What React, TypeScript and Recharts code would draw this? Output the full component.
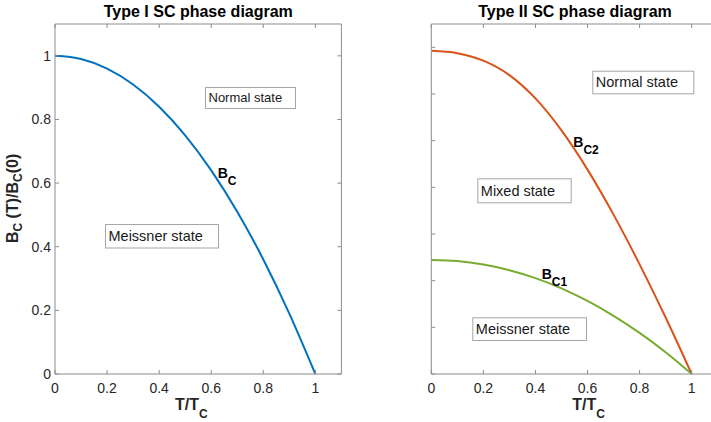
import { LineChart, Line, XAxis, YAxis, ReferenceLine } from 'recharts'

// values (T/Tc on x, field on y)
const tNorm = [0, 0.1, 0.2, 0.3, 0.4, 0.5, 0.6, 0.7, 0.8, 0.9, 1]
const bcType1 = [1, 0.99, 0.96, 0.91, 0.84, 0.75, 0.64, 0.51, 0.36, 0.19, 0]
const bc2Type2 = [1.385, 1.375, 1.343, 1.281, 1.181, 1.044, 0.876, 0.683, 0.47, 0.242, 0]
const bc1Type2 = [0.489, 0.484, 0.469, 0.445, 0.411, 0.367, 0.313, 0.249, 0.176, 0.093, 0]

const xTicks = [0, 0.2, 0.4, 0.6, 0.8, 1]
const yTicksType1 = [0, 0.2, 0.4, 0.6, 0.8, 1]
const yTicksType2 = [0, 0.2, 0.4, 0.6, 0.8, 1, 1.2, 1.4]

const type1Data = tNorm.map((t, i) => ({ t, bc: bcType1[i] }))
const type2Data = tNorm.map((t, i) => ({ t, bc2: bc2Type2[i], bc1: bc1Type2[i] }))

const FONT = '"Liberation Sans", Arial, Helvetica, sans-serif'
const AXIS = '#8c8c8c'
const TEXT = '#262626'

const CHART_W = 360
const CHART_H = 422
const PLOT_TOP = 24
const PLOT_BOTTOM = 374
const TICK_LEN = 4

interface PanelProps {
  left: number
  plotLeft: number
  plotRight: number
  data: any[]
  yMax: number
  yTicks: number[]
  yLabels: boolean
  lines: { key: string; color: string }[]
}

function Panel({ left, plotLeft, plotRight, data, yMax, yTicks, yLabels, lines }: PanelProps) {
  const xTick = (props: any) => {
    const { x, payload } = props
    return (
      <g>
        <line x1={x} x2={x} y1={PLOT_BOTTOM} y2={PLOT_BOTTOM - TICK_LEN} stroke={AXIS} />
        <line x1={x} x2={x} y1={PLOT_TOP} y2={PLOT_TOP + TICK_LEN} stroke={AXIS} />
        <text x={x} y={PLOT_BOTTOM + 19} textAnchor="middle" fontSize={14} fontFamily={FONT} fill={TEXT}>
          {payload.value}
        </text>
      </g>
    )
  }

  const yTick = (props: any) => {
    const { y, payload } = props
    return (
      <g>
        <line x1={plotLeft} x2={plotLeft + TICK_LEN} y1={y} y2={y} stroke={AXIS} />
        <line x1={plotRight} x2={plotRight - TICK_LEN} y1={y} y2={y} stroke={AXIS} />
        {yLabels && (
          <text x={plotLeft - 4} y={y + 5} textAnchor="end" fontSize={14} fontFamily={FONT} fill={TEXT}>
            {payload.value}
          </text>
        )}
      </g>
    )
  }

  return (
    <div style={{ position: 'absolute', left, top: 0 }}>
      <LineChart
        width={CHART_W}
        height={CHART_H}
        data={data}
        margin={{ top: PLOT_TOP, right: CHART_W - plotRight, bottom: 0, left: 0 }}
      >
        <XAxis
          dataKey="t"
          type="number"
          domain={[0, 1.1]}
          ticks={xTicks}
          interval={0}
          height={CHART_H - PLOT_BOTTOM}
          tickLine={false}
          axisLine={{ stroke: AXIS }}
          tick={xTick}
        />
        <YAxis
          type="number"
          domain={[0, yMax]}
          ticks={yTicks}
          interval={0}
          width={plotLeft}
          tickLine={false}
          axisLine={{ stroke: AXIS }}
          tick={yTick}
        />
        <ReferenceLine y={yMax} stroke={AXIS} />
        <ReferenceLine x={1.1} stroke={AXIS} />
        {lines.map((l) => (
          <Line
            key={l.key}
            type="monotone"
            dataKey={l.key}
            stroke={l.color}
            strokeWidth={2}
            dot={false}
            isAnimationActive={false}
          />
        ))}
      </LineChart>
    </div>
  )
}

function StateBox({ x, y, w, h, label, size = 14.5 }: { x: number; y: number; w: number; h: number; label: string; size?: number }) {
  return (
    <g>
      <rect x={x + 0.5} y={y + 0.5} width={w} height={h} fill="#fff" stroke="#a6a6a6" />
      <text x={x + 3.5} y={y + h / 2 + size * 0.36} fontSize={size} fontFamily={FONT} fill="#1a1a1a">
        {label}
      </text>
    </g>
  )
}

function SubLabel({ x, y, main, sub }: { x: number; y: number; main: string; sub: string }) {
  return (
    <text x={x} y={y} fontFamily={FONT} fontWeight="bold" fill="#000">
      <tspan fontSize={14}>{main}</tspan>
      <tspan fontSize={12} dy={7}>{sub}</tspan>
    </text>
  )
}

export default function App() {
  return (
    <div style={{ position: 'absolute', left: 0, top: 0, width: 711, height: 422, overflow: 'hidden', background: '#fff' }}>
      <Panel
        left={0}
        plotLeft={55}
        plotRight={341.4}
        data={type1Data}
        yMax={1.1}
        yTicks={yTicksType1}
        yLabels
        lines={[{ key: 'bc', color: '#0072BD' }]}
      />
      <Panel
        left={380}
        plotLeft={51.3}
        plotRight={337.7}
        data={type2Data}
        yMax={1.5}
        yTicks={yTicksType2}
        yLabels={false}
        lines={[
          { key: 'bc2', color: '#D95319' },
          { key: 'bc1', color: '#77AC30' },
        ]}
      />
      <svg width={711} height={422} style={{ position: 'absolute', left: 0, top: 0, pointerEvents: 'none' }}>
        {/* titles */}
        <text x={198.3} y={17} textAnchor="middle" fontSize={16} fontWeight="bold" fontFamily={FONT} fill="#000">
          Type I SC phase diagram
        </text>
        <text x={575} y={17} textAnchor="middle" fontSize={16} fontWeight="bold" fontFamily={FONT} fill="#000">
          Type II SC phase diagram
        </text>

        {/* x labels */}
        <text x={175} y={410} fontFamily={FONT} fontWeight="bold" fill={TEXT}>
          <tspan fontSize={16}>T/T</tspan>
          <tspan fontSize={12} dy={8}>C</tspan>
        </text>
        <text x={572.3} y={410} fontFamily={FONT} fontWeight="bold" fill={TEXT}>
          <tspan fontSize={16}>T/T</tspan>
          <tspan fontSize={12} dy={8}>C</tspan>
        </text>

        {/* y label */}
        <text transform="translate(18.3, 198.4) rotate(-90)" textAnchor="middle" fontFamily={FONT} fontWeight="bold" fill={TEXT}>
          <tspan fontSize={16}>B</tspan>
          <tspan fontSize={12} dy={4}>C</tspan>
          <tspan fontSize={16} dy={-4}> (T)/B</tspan>
          <tspan fontSize={12} dy={4}>C</tspan>
          <tspan fontSize={16} dy={-4}>(0)</tspan>
        </text>

        {/* state boxes */}
        <StateBox x={205} y={87} w={90} h={21} label="Normal state" size={13} />
        <StateBox x={105} y={224} w={113} h={23.5} label="Meissner state" />
        <StateBox x={592.3} y={70.7} w={101} h={22.6} label="Normal state" />
        <StateBox x={477.3} y={178.3} w={93.4} h={24} label="Mixed state" />
        <StateBox x={472.3} y={317.3} w={113.7} h={22.7} label="Meissner state" />

        {/* curve labels */}
        <SubLabel x={217.7} y={178.3} main="B" sub="C" />
        <SubLabel x={573.3} y={147.3} main="B" sub="C2" />
        <SubLabel x={541.7} y={279.3} main="B" sub="C1" />
      </svg>
    </div>
  )
}
